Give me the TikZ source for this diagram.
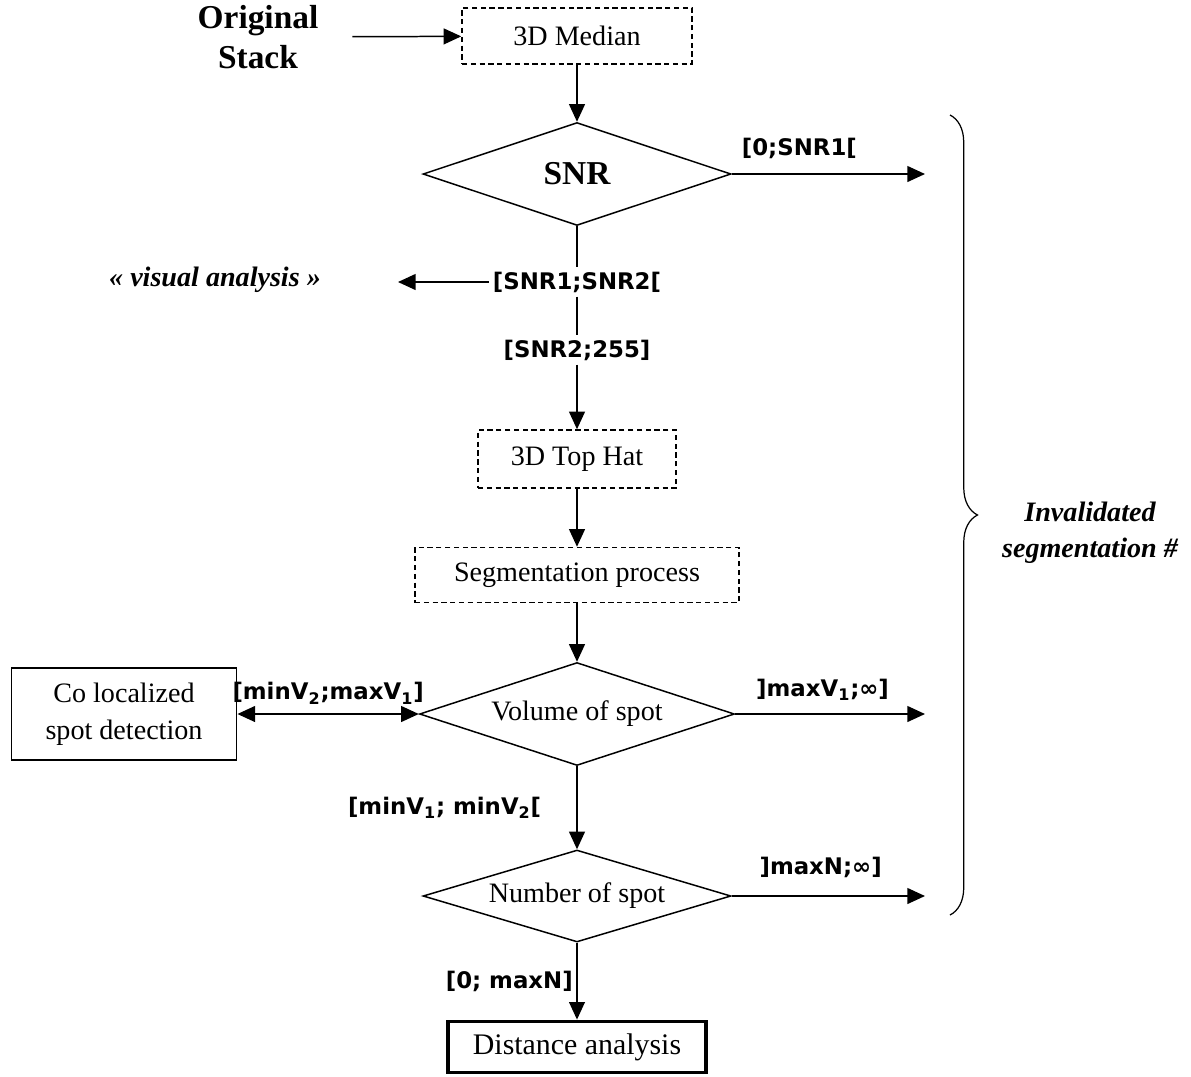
\documentclass[tikz,border=0pt]{standalone}
\usepackage{fontspec}
\setmainfont{Liberation Serif}
\newfontfamily\condfont{DejaVu Sans}
\usetikzlibrary{arrows.meta, shapes, positioning, decorations.pathreplacing}
\tikzset{proc/.style={rectangle, draw, dash pattern=on 3pt off 2pt, text centered, font=\fontsize{16}{19}\selectfont}}
\tikzset{test/.style={diamond, draw, aspect=3, inner sep=0pt, font=\fontsize{16}{19}\selectfont}}
\tikzset{cond/.style={inner sep=2pt, font=\condfont\bfseries\fontsize{13}{15}\selectfont}}
\tikzset{remark/.style={align=center, font=\bfseries\itshape\fontsize{16}{20}\selectfont}}
\tikzset{plain/.style={rectangle, draw, align=center, line width=1.1pt, font=\fontsize{16}{21}\selectfont}}
\tikzset{result/.style={rectangle, draw, line width=2.2pt, font=\fontsize{17}{20}\selectfont}}

\begin{document}
\begin{tikzpicture}[
	x=0.02cm, y=-0.02cm,
	->,
	>={Triangle[length=10pt, width=9pt]},
	line width=0.85pt,
	]
	\useasboundingbox (0,0) rectangle (1191,1076);
	\node [align=center, font=\bfseries\fontsize{19}{22.5}\selectfont] (orig) at (258,37) {Original\\Stack};
	\node [proc, minimum width=4.6cm, minimum height=1.12cm]  (med) at (577,36)   {3D Median};
	\node [test, minimum width=6.16cm, minimum height=2.06cm, font=\bfseries\fontsize{19}{22}\selectfont] (snr) at (577,174) {SNR};
	\node [cond]           (snr12) at (577,282) {[SNR1;SNR2[};
	\node [cond]           (snr2)  at (577,350) {[SNR2;255]};
	\node [remark]         (visu)  at (215,280) {« visual analysis »};
	\node [proc, minimum width=3.96cm, minimum height=1.16cm] (hat) at (577,459)  {3D Top Hat};
	\node [proc, minimum width=6.48cm, minimum height=1.1cm]  (seg) at (577,575)  {Segmentation process};
	\node [test, minimum width=6.3cm, minimum height=2.06cm]  (vol) at (577,714)  {Volume of spot};
	\node [plain, minimum width=4.5cm, minimum height=1.84cm] (coloc) at (124,714) {Co localized\\spot detection};
	\node [test, minimum width=6.16cm, minimum height=1.84cm] (num) at (577,896)  {Number of spot};
	\node [result, minimum width=5.16cm, minimum height=1.02cm] (dist) at (577,1047) {Distance analysis};
	\node [remark, font=\bfseries\itshape\fontsize{16}{20.5}\selectfont] (inval) at (1090,533) {Invalidated\\segmentation \#};

	\coordinate (snr-out) at (925,174);
	\coordinate (vol-out) at (925,714);
	\coordinate (num-out) at (925,896);
	\coordinate (visu-in) at (398,282);
	\coordinate (brace-top) at (950,115);
	\coordinate (brace-bot) at (950,915);

	\draw [shorten <=0.55cm] (orig) -- (med);
	\path
	(med) edge (snr)
	(snr) edge node[cond, above=6pt, pos=0.35] {[0;SNR1[} (snr-out)
	(snr) edge[-] (snr12)
	(snr12) edge (visu-in)
	(snr12) edge[-] (snr2)
	(snr2) edge (hat)
	(hat) edge (seg)
	(seg) edge (vol)
	(vol) edge node[cond, above=5pt, pos=0.46] {]maxV\textsubscript{1};∞]} (vol-out)
	(coloc) edge[<->] node[cond, above=3pt] {[minV\textsubscript{2};maxV\textsubscript{1}]} (vol)
	(vol) edge node[cond, left=18pt] {[minV\textsubscript{1}; minV\textsubscript{2}[} (num)
	(num) edge node[cond, above=8pt, pos=0.46] {]maxN;∞]} (num-out)
	(num) edge node[cond, left=0pt] {[0; maxN]} (dist);

	\draw [-, line width=0.7pt, decorate, decoration={brace, amplitude=0.55cm}] (brace-top) -- (brace-bot);
\end{tikzpicture}
\end{document}
